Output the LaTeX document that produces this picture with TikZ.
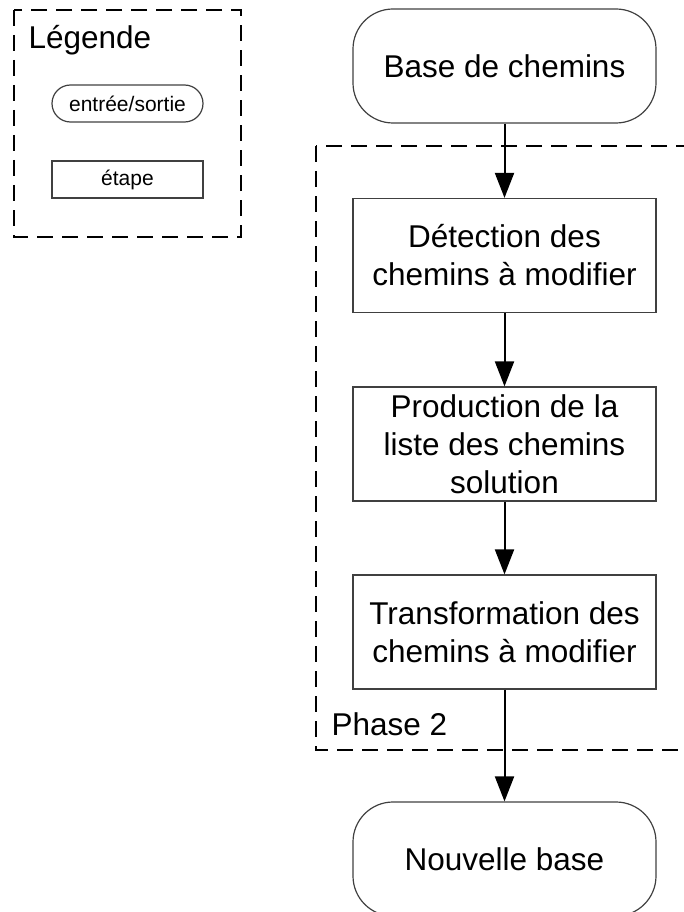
\documentclass[tikz,border=0pt]{standalone}
\usepackage{fontspec}
\setmainfont{Liberation Sans}
\usetikzlibrary{arrows.meta}

\begin{document}
\begin{tikzpicture}[x=1pt, y=1pt, >={Triangle[length=25pt,width=19pt]},
        boite/.style={draw=black!75, line width=1.2pt, inner sep=0pt, align=center},
        etape/.style={boite, minimum width=303pt, minimum height=114pt, font=\fontsize{31.5}{38}\selectfont},
        entree/.style={etape, rounded corners=40pt},
        petite/.style={boite, minimum width=151pt, minimum height=37pt, font=\fontsize{21}{25}\selectfont},
        cadre/.style={line width=2pt, dash pattern=on 16pt off 9pt},
        fleche/.style={->, line width=2pt}]
    \useasboundingbox (0,0) rectangle (684,-912);

    % ==== LEGENDE ====
    \draw[cadre] (14,-10) rectangle (241,-237);
    \node[anchor=base west, font=\fontsize{31.5}{38}\selectfont] (titre) at (25,-49) {Légende};
    \node[petite, rounded corners=18.5pt] (legio) at (127.5,-103.5) {entrée/sortie};
    \node[petite] (legetape) at (127.5,-179.5) {étape};

    % ==== PHASE 2 ====
    \draw[cadre] (316,-146) rectangle (700,-750);
    \node[anchor=base west, font=\fontsize{31.5}{38}\selectfont] (phase) at (328,-735) {Phase 2};

    % ==== ETAPES ====
    \node[entree] (base) at (504.5,-66) {Base de chemins};
    \node[etape] (detect) at (504.5,-255.5) {Détection des\\chemins à modifier};
    \node[etape] (prod) at (504.5,-444) {Production de la\\liste des chemins\\solution};
    \node[etape] (transf) at (504.5,-632) {Transformation des\\chemins à modifier};
    \node[entree] (nouv) at (504.5,-859) {Nouvelle base};

    % ==== FLECHES ====
    \draw[fleche] (base) -- (detect);
    \draw[fleche] (detect) -- (prod);
    \draw[fleche] (prod) -- (transf);
    \draw[fleche] (transf) -- (nouv);
\end{tikzpicture}
\end{document}
